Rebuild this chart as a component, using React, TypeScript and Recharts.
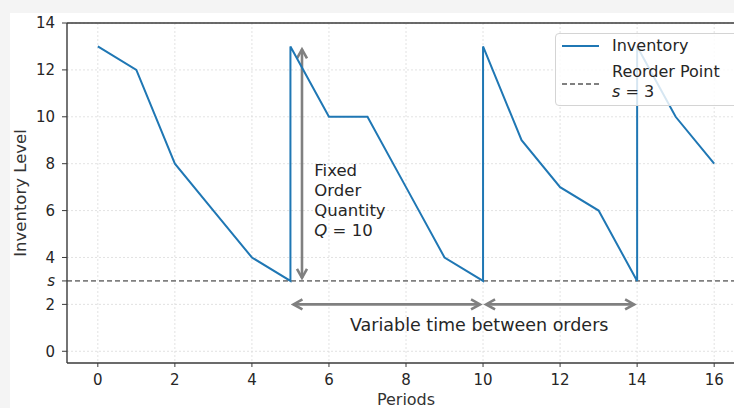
import React from 'react';
import {
  LineChart,
  Line,
  XAxis,
  YAxis,
  CartesianGrid,
  ReferenceLine,
  ReferenceDot,
  Legend,
} from 'recharts';

// inventory path, the repeated periods are the instant restocks
const periods = [0, 1, 2, 3, 4, 5, 5, 6, 7, 8, 9, 10, 10, 11, 12, 13, 14, 14, 15, 16];
const inventory = [13, 12, 8, 6, 4, 3, 13, 10, 10, 7, 4, 3, 13, 9, 7, 6, 3, 13, 10, 8];

const orderPeriods = [5, 10, 14];
const reorderPoint = 3;
const orderQuantity = 10;

const xTicks = [0, 2, 4, 6, 8, 10, 12, 14, 16];
const yTicks = [0, 2, 3, 4, 6, 8, 10, 12, 14];
const gridY = [0, 2, 4, 6, 8, 10, 12, 14];

const qArrowX = 5.3;
const gapArrowY = 2;
const qLabelAt = { x: 5.62, y: 7.75 };
const gapLabelAt = { x: 9.9, y: 1.1 };
const qLabelLines = ['Fixed', 'Order', 'Quantity'];

const FONT = '"DejaVu Sans", sans-serif';
const BLUE = '#1f77b4';
const GRAY = '#808080';
const INK = '#262626';

const chartData = periods.map((p, i) => ({ period: p, inventory: inventory[i] }));

function DoubleArrow(props: any) {
  const { x1, y1, x2, y2 } = props;
  const dx = x2 - x1;
  const dy = y2 - y1;
  const len = Math.hypot(dx, dy) || 1;
  const ux = dx / len;
  const uy = dy / len;
  const px = -uy;
  const py = ux;
  const shrink = 3;
  const head = 9;
  const half = 5;
  const ax = x1 + ux * shrink;
  const ay = y1 + uy * shrink;
  const bx = x2 - ux * shrink;
  const by = y2 - uy * shrink;
  const headA = `${ax + ux * head + px * half},${ay + uy * head + py * half} ${ax},${ay} ${ax + ux * head - px * half},${ay + uy * head - py * half}`;
  const headB = `${bx - ux * head + px * half},${by - uy * head + py * half} ${bx},${by} ${bx - ux * head - px * half},${by - uy * head - py * half}`;
  return (
    <g stroke={GRAY} strokeWidth={2.6} fill="none">
      <line x1={ax} y1={ay} x2={bx} y2={by} />
      <polyline points={headA} />
      <polyline points={headB} />
    </g>
  );
}

function QuantityLabel({ cx, cy }: any) {
  return (
    <text x={cx} y={cy} fill={INK} fontSize={16.5} fontFamily={FONT} dominantBaseline="central">
      {qLabelLines.map((t, i) => (
        <tspan key={t} x={cx} y={cy + i * 20}>{t}</tspan>
      ))}
      <tspan x={cx} y={cy + qLabelLines.length * 20}>
        <tspan fontStyle="italic">Q</tspan> = {orderQuantity}
      </tspan>
    </text>
  );
}

function GapLabel({ cx, cy }: any) {
  return (
    <text x={cx} y={cy} fill={INK} fontSize={17.5} fontFamily={FONT} textAnchor="middle" dominantBaseline="central">
      Variable time between orders
    </text>
  );
}

function YTick({ x, y, payload }: any) {
  return (
    <text x={x} y={y} dy="0.35em" textAnchor="end" fill={INK} fontSize={15} fontFamily={FONT}>
      {payload.value === reorderPoint ? <tspan fontStyle="italic">s</tspan> : payload.value}
    </text>
  );
}

function LegendBox() {
  return (
    <div
      style={{
        position: 'relative',
        width: 200,
        height: 71,
        border: '1px solid #d4d4d4',
        borderRadius: 4,
        background: 'rgba(255,255,255,0.82)',
        fontFamily: FONT,
        fontSize: 16,
        color: INK,
        lineHeight: 1,
      }}
    >
      <svg width={40} height={71} style={{ position: 'absolute', left: 5, top: 0 }}>
        <line x1={1} y1={12} x2={38} y2={12} stroke={BLUE} strokeWidth={2} />
        <line x1={1} y1={50} x2={38} y2={50} stroke={GRAY} strokeWidth={1.8} strokeDasharray="5 3" />
      </svg>
      <div style={{ position: 'absolute', left: 56, top: 4 }}>Inventory</div>
      <div style={{ position: 'absolute', left: 56, top: 30 }}>Reorder Point</div>
      <div style={{ position: 'absolute', left: 56, top: 50 }}>
        <i>s</i> = {reorderPoint}
      </div>
    </div>
  );
}

export default function App() {
  return (
    <div
      style={{
        position: 'absolute',
        left: 0,
        top: 0,
        width: 734,
        height: 408,
        overflow: 'hidden',
        background: '#f4f4f4',
      }}
    >
      <div style={{ position: 'absolute', left: 10, top: 13, right: 0, bottom: 0, background: '#fff' }} />
      <div style={{ position: 'absolute', left: 0, top: 0 }}>
        <LineChart width={760} height={408} data={chartData} margin={{ top: 23, right: 15, bottom: 0, left: 0 }}>
          <CartesianGrid
            stroke="#dadada"
            strokeDasharray="2 2"
            strokeWidth={0.8}
            horizontalValues={gridY}
            verticalValues={xTicks}
          />
          <XAxis
            dataKey="period"
            type="number"
            domain={[-0.8, 16.8]}
            ticks={xTicks}
            allowDataOverflow
            height={45}
            tickSize={4}
            tickMargin={7}
            stroke="#3a3a3a"
            tick={{ fill: INK, fontSize: 15, fontFamily: FONT }}
            axisLine={{ stroke: '#3a3a3a', strokeWidth: 1.4 }}
            label={{
              content: (p: any) => {
                const vb = p.viewBox;
                return (
                  <text
                    x={vb.x + vb.width / 2}
                    y={vb.y + vb.height - 3}
                    textAnchor="middle"
                    fill="#333"
                    fontSize={16}
                    fontFamily={FONT}
                  >
                    Periods
                  </text>
                );
              },
            }}
          />
          <YAxis
            type="number"
            domain={[-0.5, 14]}
            ticks={yTicks}
            allowDataOverflow
            width={67}
            tickSize={5}
            tickMargin={7}
            stroke="#3a3a3a"
            tick={<YTick />}
            axisLine={{ stroke: '#3a3a3a', strokeWidth: 1.4 }}
            label={{
              content: (p: any) => {
                const vb = p.viewBox;
                const cy = vb.y + vb.height / 2;
                return (
                  <text
                    x={20}
                    y={cy}
                    transform={`rotate(-90, 20, ${cy})`}
                    textAnchor="middle"
                    dominantBaseline="central"
                    fill="#333"
                    fontSize={16.5}
                    fontFamily={FONT}
                  >
                    Inventory Level
                  </text>
                );
              },
            }}
          />
          <ReferenceLine y={14} stroke="#3a3a3a" strokeWidth={1.4} />
          <ReferenceLine y={reorderPoint} stroke={GRAY} strokeWidth={1.8} strokeDasharray="5 3" />
          <ReferenceLine
            segment={[
              { x: qArrowX, y: reorderPoint },
              { x: qArrowX, y: reorderPoint + orderQuantity },
            ]}
            shape={DoubleArrow}
          />
          {orderPeriods.slice(1).map((p, i) => (
            <ReferenceLine
              key={p}
              segment={[
                { x: orderPeriods[i], y: gapArrowY },
                { x: p, y: gapArrowY },
              ]}
              shape={DoubleArrow}
            />
          ))}
          <ReferenceDot x={qLabelAt.x} y={qLabelAt.y} r={0} shape={QuantityLabel} />
          <ReferenceDot x={gapLabelAt.x} y={gapLabelAt.y} r={0} shape={GapLabel} />
          <Line
            type="linear"
            dataKey="inventory"
            name="Inventory"
            stroke={BLUE}
            strokeWidth={2}
            dot={false}
            isAnimationActive={false}
          />
          <Legend
            layout="vertical"
            align="center"
            verticalAlign="middle"
            wrapperStyle={{ top: 33, left: 555, width: 200, height: 73 }}
            content={() => <LegendBox />}
          />
        </LineChart>
      </div>
    </div>
  );
}
